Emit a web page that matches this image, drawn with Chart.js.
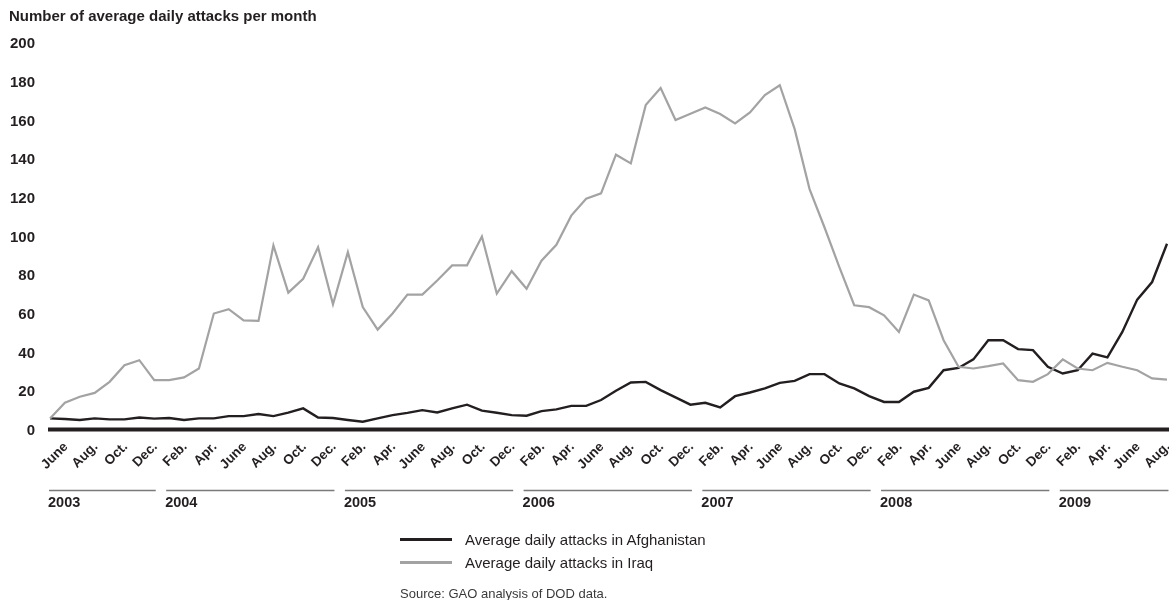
<!DOCTYPE html>
<html>
<head>
<meta charset="utf-8">
<script src="https://cdn.jsdelivr.net/npm/chart.js@4.4.1/dist/chart.umd.min.js"></script>
<style>
  html, body { margin: 0; padding: 0; background: #fff; }
  body { width: 1169px; height: 600px; position: relative; overflow: hidden; font-family: "Liberation Sans", Arial, sans-serif; color: #231f20; }
  #stage { position: absolute; left: 0; top: 0; }
  .title { position: absolute; left: 9px; top: 8px; font-size: 15px; line-height: 15px; font-weight: bold; white-space: nowrap; }
  .legend-item { position: absolute; left: 400px; height: 15px; font-size: 15px; line-height: 15px; white-space: nowrap; }
  .legend-item i { position: absolute; left: 0; top: 6px; width: 52px; height: 3px; }
  .legend-item span { position: absolute; left: 65px; top: 0; }
  .source { position: absolute; left: 400px; top: 587px; font-size: 13px; line-height: 13px; color: #3a3a3a; white-space: nowrap; }
</style>
</head>
<body>
<canvas id="stage" width="1169" height="600"></canvas>
<div class="title">Number of average daily attacks per month</div>
<div class="legend-item" style="top:531.5px"><i style="background:#231f20"></i><span>Average daily attacks in Afghanistan</span></div>
<div class="legend-item" style="top:555px"><i style="background:#a3a3a3;height:2.6px"></i><span>Average daily attacks in Iraq</span></div>
<div class="source">Source: GAO analysis of DOD data.</div>
<script>
const ink = '#231f20';
const grey = '#a3a3a3';
const family = '"Liberation Sans", Arial, sans-serif';

// monthly series, May 2003 through Aug. 2009
const monthNames = ['Jan.', 'Feb.', 'Mar.', 'Apr.', 'May', 'June', 'July', 'Aug.', 'Sept.', 'Oct.', 'Nov.', 'Dec.'];
const startYear = 2003;
const startMonth = 4; // May
const years = ['2003', '2004', '2005', '2006', '2007', '2008', '2009'];

const afghanistan = [
  6.5, 6.2, 5.7, 6.5, 6, 6, 7, 6.4, 6.7, 5.7,
  6.5, 6.5, 7.7, 7.7, 8.8, 7.7, 9.5, 11.7, 7, 6.7,
  5.7, 4.8, 6.5, 8.2, 9.4, 10.8, 9.6, 11.7, 13.6, 10.5,
  9.4, 8.2, 7.9, 10.3, 11.2, 13, 13, 16, 20.8, 25.1,
  25.4, 21.1, 17.4, 13.6, 14.6, 12.2, 18, 19.9, 22, 24.9,
  25.9, 29.4, 29.4, 24.6, 22, 18, 15, 15, 20.3, 22.3,
  31.4, 32.6, 37, 46.9, 46.9, 42.3, 41.8, 33.2, 29.7, 31.4,
  40, 38, 51.2, 67.9, 77, 96.8,
];

const iraq = [
  6.5, 14.6, 17.7, 19.7, 25.4, 34, 36.6, 26.3, 26.3, 27.7,
  32.3, 60.7, 63, 57.2, 56.9, 95.9, 71.5, 78.7, 95, 65.5,
  92.4, 64, 52.4, 60.7, 70.5, 70.5, 77.8, 85.6, 85.6, 100.5,
  71, 82.6, 73.5, 88, 96.2, 111.3, 120, 122.8, 142.8, 138.3,
  168.4, 177.2, 160.7, 164, 167.2, 163.8, 159, 164.6, 173.6, 178.7,
  156, 125, 105.3, 84.7, 65, 64, 59.8, 51.2, 70.5, 67.5,
  46.9, 33.2, 32.3, 33.5, 34.9, 26.3, 25.4, 29.4, 37, 32.3,
  31.4, 35.2, 33.2, 31.4, 27.2, 26.6,
];

const months = afghanistan.map((_, i) => monthNames[(startMonth + i) % 12]);
const yearOf = afghanistan.map((_, i) => String(startYear + Math.floor((startMonth + i) / 12)));

const baseline = {
  id: 'baseline',
  beforeDatasetsDraw(chart) {
    const { ctx, chartArea, scales: { y } } = chart;
    const zero = y.getPixelForValue(0) - 1.5;
    ctx.save();
    ctx.strokeStyle = ink;
    ctx.lineWidth = 4;
    ctx.beginPath();
    ctx.moveTo(chartArea.left - 2, zero);
    ctx.lineTo(chartArea.right + 2, zero);
    ctx.stroke();
    ctx.restore();
  },
};

const yearBrackets = {
  id: 'yearBrackets',
  afterDraw(chart) {
    const { ctx, chartArea, scales: { x } } = chart;
    const step = x.getPixelForValue(1) - x.getPixelForValue(0);
    ctx.save();
    years.forEach((year) => {
      const first = yearOf.indexOf(year);
      const last = yearOf.lastIndexOf(year);
      const from = Math.max(chartArea.left - 1, x.getPixelForValue(first) - 0.2 * step);
      const to = Math.min(chart.width, x.getPixelForValue(last) + 0.1 * step);
      ctx.strokeStyle = '#7a7a7a';
      ctx.lineWidth = 1.5;
      ctx.beginPath();
      ctx.moveTo(from, 490.5);
      ctx.lineTo(to, 490.5);
      ctx.stroke();
      ctx.fillStyle = ink;
      ctx.font = 'bold 14.5px ' + family;
      ctx.textBaseline = 'middle';
      ctx.fillText(year, from - 1, 503);
    });
    ctx.restore();
  },
};

new Chart(document.getElementById('stage'), {
  type: 'line',
  data: {
    labels: months,
    datasets: [
      { label: 'Average daily attacks in Iraq', data: iraq, borderColor: grey, borderWidth: 2.2, pointRadius: 0, tension: 0 },
      { label: 'Average daily attacks in Afghanistan', data: afghanistan, borderColor: ink, borderWidth: 2.4, pointRadius: 0, tension: 0 },
    ],
  },
  options: {
    responsive: false,
    animation: false,
    events: [],
    layout: { autoPadding: false, padding: { top: 44, right: 2, left: 0, bottom: 0 } },
    plugins: { legend: { display: false }, tooltip: { enabled: false }, title: { display: false } },
    scales: {
      x: {
        offset: false,
        grid: { display: false, drawTicks: false },
        border: { display: false },
        afterFit(scale) {
          scale.height = 169;
          scale.paddingLeft = 0;
          scale.paddingRight = 0;
        },
        ticks: {
          autoSkip: false, minRotation: 45, maxRotation: 45, padding: 8, labelOffset: 1, color: ink,
          font: { family, size: 13.5, weight: 'bold' },
          callback: (value, index) => (index % 2 === 1 ? months[index] : ''),
        },
      },
      y: {
        min: 0, max: 200,
        grid: { display: false, drawTicks: false },
        border: { display: false },
        afterFit(scale) { scale.width = 50; },
        ticks: { stepSize: 20, padding: 15, color: ink, font: { family, size: 15, weight: 'bold' } },
      },
    },
  },
  plugins: [baseline, yearBrackets],
});
</script>
</body>
</html>
